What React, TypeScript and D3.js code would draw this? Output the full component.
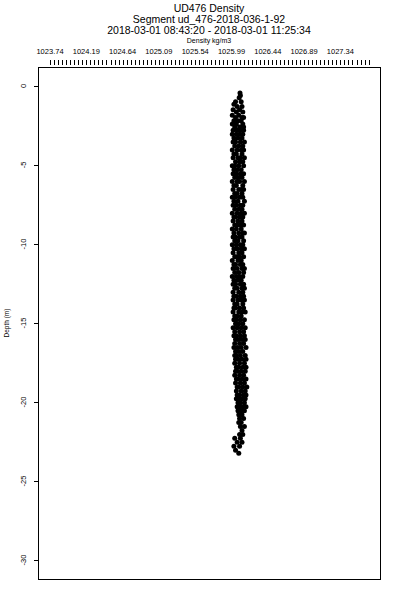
import React, { useEffect, useRef } from 'react';
import * as d3 from 'd3';

const titleLines = [
  'UD476 Density',
  'Segment ud_476-2018-036-1-92',
  '2018-03-01 08:43:20 - 2018-03-01 11:25:34',
];
const xAxisTitle = 'Density kg/m3';
const yAxisTitle = 'Depth (m)';

const xTickLabels = [1023.74, 1024.19, 1024.64, 1025.09, 1025.54, 1025.99, 1026.44, 1026.89, 1027.34];
const yTickValues = [0, -5, -10, -15, -20, -25, -30];

// depth levels (m) and the density samples seen at each level
const depthLevels = [
  -0.45, -0.6, -0.75, -1.0, -1.15, -1.3, -1.5, -1.65, -1.85, -2.0, -2.2, -2.4, -2.6,
  -2.8, -3.05, -3.3, -3.55, -3.8, -4.05, -4.3, -4.55, -4.8, -5.05, -5.3, -5.55, -5.8,
  -6.05, -6.3, -6.55, -6.8, -7.05, -7.3, -7.55, -7.8, -8.05, -8.3, -8.55, -8.8, -9.05,
  -9.3, -9.55, -9.8, -10.05, -10.3, -10.55, -10.8, -11.05, -11.3, -11.55, -11.8, -12.05,
  -12.3, -12.55, -12.8, -13.05, -13.3, -13.55, -13.8, -14.05, -14.3, -14.55, -14.8,
  -15.05, -15.3, -15.55, -15.8, -16.05, -16.3, -16.55, -16.8, -17.05, -17.3, -17.55,
  -17.8, -18.05, -18.3, -18.55, -18.8, -19.05, -19.3, -19.55, -19.8, -20.05, -20.3,
  -20.55, -20.8, -21.05, -21.3, -21.55, -21.8, -22.05, -22.3, -22.55, -22.8, -23.05, -23.25,
];

const densityAtLevel = [
  [1026.095], [1026.1], [1026.085], [1026.04, 1026.11], [1026.02], [1026.06, 1026.12],
  [1026.01, 1026.09], [1026.05, 1026.13], [1026.0, 1026.08], [1026.04, 1026.12, 1026.14],
  [1026.02, 1026.07, 1026.11], [1026.0, 1026.05, 1026.13], [1026.03, 1026.09, 1026.14],
  [1026.01, 1026.06, 1026.1, 1026.14], [1026.0, 1026.05, 1026.09, 1026.13], [1026.02, 1026.07, 1026.12],
  [1026.01, 1026.04, 1026.1, 1026.15], [1026.03, 1026.08, 1026.13], [1026.0, 1026.06, 1026.11, 1026.14],
  [1026.02, 1026.05, 1026.12], [1026.01, 1026.07, 1026.1, 1026.15], [1026.04, 1026.09, 1026.13],
  [1026.0, 1026.03, 1026.08, 1026.14], [1026.02, 1026.06, 1026.11], [1026.01, 1026.05, 1026.1, 1026.14],
  [1026.03, 1026.07, 1026.12], [1026.0, 1026.06, 1026.09, 1026.15], [1026.02, 1026.05, 1026.13],
  [1026.01, 1026.08, 1026.11, 1026.14], [1026.03, 1026.06, 1026.12], [1026.0, 1026.04, 1026.09, 1026.13],
  [1026.02, 1026.07, 1026.15], [1026.01, 1026.05, 1026.1, 1026.13], [1026.03, 1026.08, 1026.12],
  [1026.0, 1026.06, 1026.11, 1026.15], [1026.02, 1026.04, 1026.09, 1026.13], [1026.01, 1026.07, 1026.12],
  [1026.03, 1026.06, 1026.1, 1026.14], [1026.0, 1026.05, 1026.11], [1026.02, 1026.08, 1026.13, 1026.15],
  [1026.01, 1026.04, 1026.09, 1026.12], [1026.03, 1026.07, 1026.14], [1026.0, 1026.05, 1026.1, 1026.13],
  [1026.02, 1026.06, 1026.11, 1026.15], [1026.01, 1026.08, 1026.12], [1026.03, 1026.05, 1026.09, 1026.14],
  [1026.0, 1026.07, 1026.11], [1026.02, 1026.04, 1026.1, 1026.13], [1026.01, 1026.06, 1026.12, 1026.15],
  [1026.03, 1026.08, 1026.14], [1026.0, 1026.05, 1026.09, 1026.13], [1026.02, 1026.07, 1026.11],
  [1026.01, 1026.04, 1026.1, 1026.14], [1026.03, 1026.06, 1026.12, 1026.15], [1026.01, 1026.08, 1026.13],
  [1026.02, 1026.05, 1026.1, 1026.14], [1026.01, 1026.07, 1026.11, 1026.15], [1026.03, 1026.06, 1026.13],
  [1026.02, 1026.04, 1026.09, 1026.14], [1026.01, 1026.08, 1026.12, 1026.16], [1026.03, 1026.06, 1026.11],
  [1026.02, 1026.05, 1026.1, 1026.15], [1026.04, 1026.08, 1026.13], [1026.01, 1026.06, 1026.11, 1026.16],
  [1026.03, 1026.09, 1026.14], [1026.02, 1026.05, 1026.1, 1026.15], [1026.04, 1026.07, 1026.12, 1026.16],
  [1026.03, 1026.09, 1026.14], [1026.02, 1026.06, 1026.11, 1026.17], [1026.04, 1026.08, 1026.13],
  [1026.03, 1026.05, 1026.1, 1026.16], [1026.04, 1026.07, 1026.12, 1026.17], [1026.03, 1026.09, 1026.15],
  [1026.05, 1026.08, 1026.13, 1026.17], [1026.04, 1026.06, 1026.11, 1026.16], [1026.03, 1026.09, 1026.14],
  [1026.05, 1026.07, 1026.12, 1026.17], [1026.04, 1026.1, 1026.15], [1026.06, 1026.08, 1026.13, 1026.18],
  [1026.05, 1026.11, 1026.16], [1026.06, 1026.09, 1026.14, 1026.17], [1026.05, 1026.08, 1026.12, 1026.16],
  [1026.07, 1026.1, 1026.15], [1026.06, 1026.09, 1026.13, 1026.17], [1026.07, 1026.11, 1026.15],
  [1026.08, 1026.12], [1026.09, 1026.14], [1026.08, 1026.11], [1026.1, 1026.15], [1026.12],
  [1026.09, 1026.13], [1026.03, 1026.1], [1026.06, 1026.12], [1026.02, 1026.09], [1026.04], [1026.08],
];

export default function App() {
  const ref = useRef<SVGSVGElement>(null);

  useEffect(() => {
    const width = 400;
    const height = 600;
    const box = { left: 38, right: 380, top: 67, bottom: 579 };
    const font = 'Liberation Sans, Arial, sans-serif';

    const x = d3.scaleLinear().domain([1023.591, 1027.831]).range([box.left, box.right]);
    const y = d3.scaleLinear().domain([1.2, -31.2]).range([box.top, box.bottom]);

    const svg = d3.select(ref.current);
    svg.selectAll('*').remove();
    svg.attr('width', width).attr('height', height);

    svg.append('rect').attr('width', width).attr('height', height).attr('fill', '#fff');

    // titles
    svg.append('g')
      .selectAll('text')
      .data(titleLines)
      .join('text')
      .attr('x', (box.left + box.right) / 2)
      .attr('y', (_, i) => 12 + i * 11)
      .attr('text-anchor', 'middle')
      .attr('font-family', font)
      .attr('font-size', 10.5)
      .text((d) => d);

    svg.append('text')
      .attr('x', (box.left + box.right) / 2)
      .attr('y', 43)
      .attr('text-anchor', 'middle')
      .attr('font-family', font)
      .attr('font-size', 7)
      .text(xAxisTitle);

    // top axis: minor ticks every 0.05, labels every 0.45
    const minorTicks = d3.range(0, 80).map((k) => xTickLabels[0] + k * 0.05);
    svg.append('g')
      .selectAll('line')
      .data(minorTicks)
      .join('line')
      .attr('x1', (d) => Math.round(x(d)) + 0.5)
      .attr('x2', (d) => Math.round(x(d)) + 0.5)
      .attr('y1', 60)
      .attr('y2', 65)
      .attr('stroke', '#000')
      .attr('stroke-width', 1);

    svg.append('g')
      .selectAll('text')
      .data(xTickLabels)
      .join('text')
      .attr('x', (d) => x(d))
      .attr('y', 54)
      .attr('text-anchor', 'middle')
      .attr('font-family', font)
      .attr('font-size', 7.5)
      .text((d) => d.toFixed(2));

    // left axis
    svg.append('g')
      .selectAll('line')
      .data(yTickValues)
      .join('line')
      .attr('x1', 34)
      .attr('x2', box.left)
      .attr('y1', (d) => Math.round(y(d)) + 0.5)
      .attr('y2', (d) => Math.round(y(d)) + 0.5)
      .attr('stroke', '#000');

    svg.append('g')
      .selectAll('text')
      .data(yTickValues)
      .join('text')
      .attr('transform', (d) => `translate(26,${y(d)}) rotate(-90)`)
      .attr('text-anchor', 'middle')
      .attr('font-family', font)
      .attr('font-size', 7.5)
      .text((d) => String(d));

    svg.append('text')
      .attr('transform', `translate(8.5,${(box.top + box.bottom) / 2}) rotate(-90)`)
      .attr('text-anchor', 'middle')
      .attr('font-family', font)
      .attr('font-size', 6.5)
      .text(yAxisTitle);

    // plot box
    svg.append('rect')
      .attr('x', box.left + 0.5)
      .attr('y', box.top + 0.5)
      .attr('width', box.right - box.left)
      .attr('height', box.bottom - box.top)
      .attr('fill', 'none')
      .attr('stroke', '#000');

    // points
    const points = depthLevels.flatMap((depth, i) =>
      densityAtLevel[i].map((density) => ({ depth, density }))
    );
    svg.append('g')
      .selectAll('circle')
      .data(points)
      .join('circle')
      .attr('cx', (d) => x(d.density))
      .attr('cy', (d) => y(d.depth))
      .attr('r', 2.5)
      .attr('fill', '#000');
  }, []);

  return (
    <svg ref={ref} style={{ position: 'absolute', left: 0, top: 0, display: 'block' }} />
  );
}
